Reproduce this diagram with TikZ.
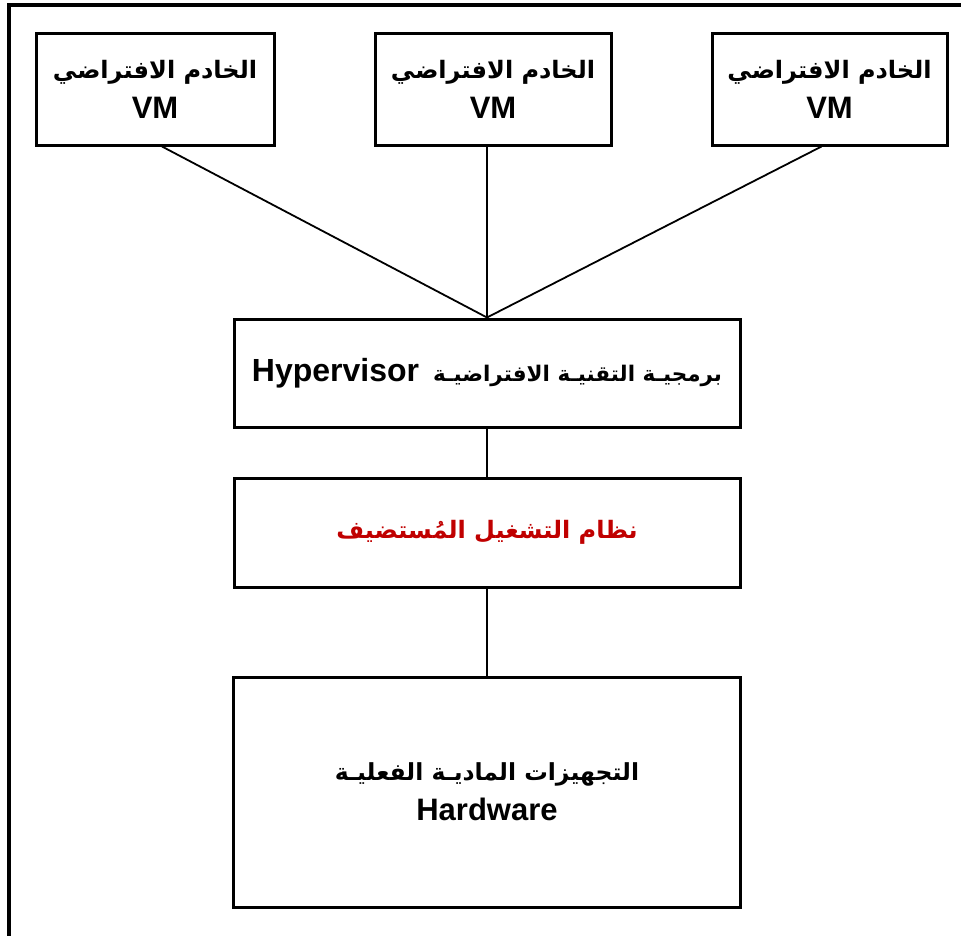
\documentclass[tikz,border=0pt]{standalone}
\usepackage{fontspec}
\setmainfont{Liberation Sans}
\newfontfamily\arabicfont[Script=Arabic]{DejaVu Sans}
\TeXXeTstate=1
\usetikzlibrary{calc}
\definecolor{hostred}{HTML}{C00000}
% Arabic run, set right to left, with an optional size
\newcommand{\ar}[2][24]{{\arabicfont\bfseries\fontsize{#1}{40}\selectfont\beginR #2\endR}}
\begin{document}
\begin{tikzpicture}[x=1pt,y=-1pt,
  layer/.style={draw, line width=3pt, inner sep=0pt, align=center,
    font=\bfseries\fontsize{31}{40}\selectfont},
  link/.style={line width=1.8pt}]
\useasboundingbox (0,0) rectangle (961,935);
\clip (0,0) rectangle (961,935);
% outer frame, only its left and top edges fall inside the page
\draw[line width=3.5pt] (9,1100) -- (9,5) -- (1100,5);

% virtual machines
\node[layer, minimum width=238pt, minimum height=112pt] (vm1) at (155,89)
  {\ar{الخادم الافتراضي}\\VM};
\node[layer, minimum width=236pt, minimum height=112pt] (vm2) at (493,89)
  {\ar{الخادم الافتراضي}\\VM};
\node[layer, minimum width=235pt, minimum height=112pt] (vm3) at (829.5,89)
  {\ar{الخادم الافتراضي}\\VM};

% hypervisor, host OS and hardware stack
\node[layer, minimum width=506pt, minimum height=108pt] (hyp) at (487,373)
  {\fontsize{32}{40}\selectfont Hypervisor\hspace{14pt}\ar[21.5]{برمجيـة التقنيـة الافتراضيـة}};
\node[layer, minimum width=506pt, minimum height=109pt] (host) at (487,532.5)
  {\textcolor{hostred}{\ar[24]{نظام التشغيل المُستضيف}}};
\node[layer, minimum width=507pt, minimum height=230pt] (hw) at (487,792)
  {\ar[23.5]{التجهيزات الماديـة الفعليـة}\\Hardware};

% connectors
\draw[link] ([xshift=7pt]vm1.south) -- (hyp.north);
\draw[link] (vm2.south -| hyp.north) -- (hyp.north);
\draw[link] ([xshift=-8pt]vm3.south) -- (hyp.north);
\draw[link] (hyp.south) -- (host.north);
\draw[link] (host.south) -- (hw.north);
\end{tikzpicture}
\end{document}
